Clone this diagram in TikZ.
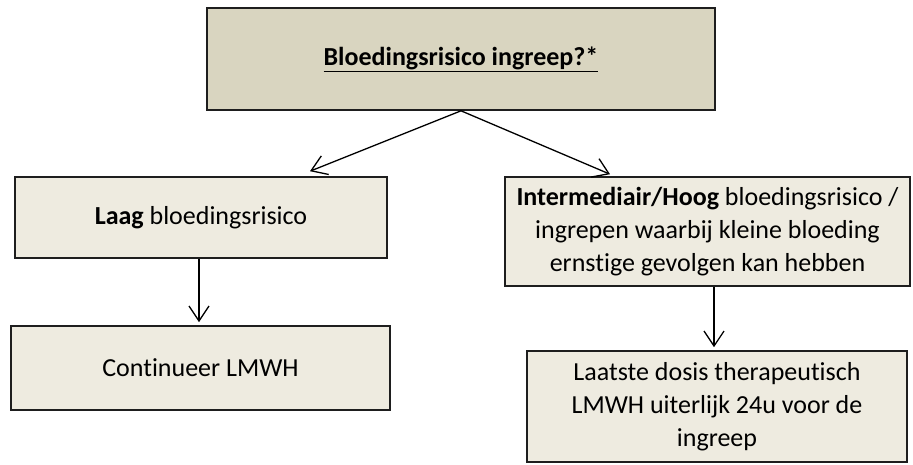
\documentclass[tikz,border=0pt]{standalone}
\usepackage{fontspec}
\setmainfont[RawFeature=-liga]{Carlito}
\usetikzlibrary{arrows.meta,calc}
\definecolor{topfill}{RGB}{217,213,192}
\definecolor{boxfill}{RGB}{238,235,224}
\definecolor{edge}{RGB}{30,30,30}
\begin{document}
\begin{tikzpicture}[x=1pt,y=-1pt,
  box/.style={draw=edge,line width=1.6pt,fill=boxfill,inner sep=0pt,align=center,
    font=\fontsize{26}{33}\selectfont,text=black},
  arr/.style={draw=black,line width=1.3pt,-{Straight Barb[length=15pt,width=20pt,line width=1.3pt]}}]
\useasboundingbox (0,0) rectangle (913,464);
\node[box,fill=topfill,minimum width=508pt,minimum height=102pt] (top) at (461,59)
  {\textbf{\underline{Bloedingsrisico ingreep?*}}};
\node[box,minimum width=372pt,minimum height=81pt] (left) at (201,217.5)
  {\textbf{Laag} bloedingsrisico};
\node[box,minimum width=379pt,minimum height=84pt] (cont) at (200.5,368)
  {Continueer LMWH};
\node[box,minimum width=405pt,minimum height=109pt] (right) at (707.5,231.5)
  {\textbf{Intermediair/Hoog} bloedingsrisico /\\ingrepen waarbij kleine bloeding\\ernstige gevolgen kan hebben};
\node[box,minimum width=380pt,minimum height=111pt] (br) at (717,406.5)
  {Laatste dosis therapeutisch\\LMWH uiterlijk 24u voor de\\ingreep};
\draw[arr] (top.south) -- ([shift={(109pt,5pt)}]left.north);
\draw[arr] (top.south) -- ([shift={(-97.5pt,2pt)}]right.north);
\draw[arr,shorten >=3pt] ([xshift=-2pt]left.south) -- ([xshift=-2pt]left.south |- cont.north);
\draw[arr,shorten >=3pt] ([xshift=6.5pt]right.south) -- ([xshift=6.5pt]right.south |- br.north);
\end{tikzpicture}
\end{document}
